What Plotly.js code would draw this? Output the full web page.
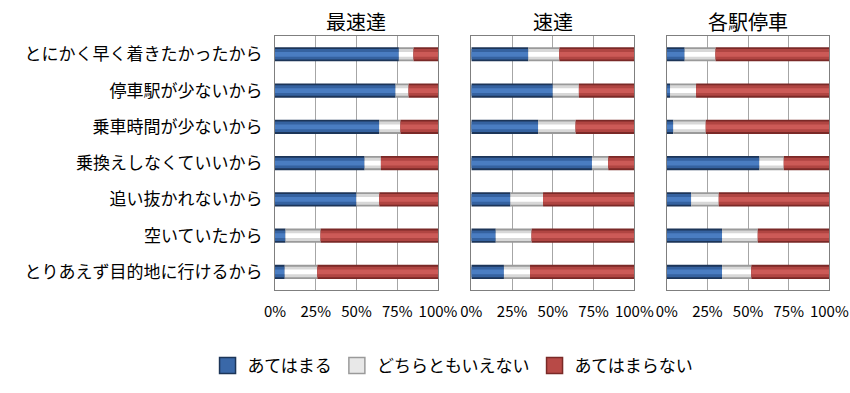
<!DOCTYPE html>
<html>
<head>
<meta charset="utf-8">
<script src="https://cdn.plot.ly/plotly-3.0.1.min.js"></script>
<style>html,body{margin:0;padding:0;background:#fff;}#chart{width:850px;height:393px;}</style>
</head>
<body>
<div id="chart"></div>
<script>
const categories = ["とにかく早く着きたかったから","停車駅が少ないから","乗車時間が少ないから","乗換えしなくていいから","追い抜かれないから","空いていたから","とりあえず目的地に行けるから"];
const panels = ["最速達","速達","各駅停車"];
const seriesNames = ["あてはまる","どちらともいえない","あてはまらない"];
const tickVals = [0,25,50,75,100];
const tickLabels = ["0%","25%","50%","75%","100%"];

// 最速達
const p1_yes = [76, 74, 64, 55, 50, 6.5, 6];
const p1_mid = [9, 8, 13, 10, 14, 21.5, 20];
const p1_no  = [15, 18, 23, 35, 36, 72, 74];
// 速達
const p2_yes = [35, 50, 41, 74, 24, 15, 20];
const p2_mid = [19, 16, 23, 10, 20, 22, 16];
const p2_no  = [46, 34, 36, 16, 56, 63, 64];
// 各駅停車
const p3_yes = [11, 2, 4, 57, 15, 34, 34];
const p3_mid = [19, 16, 20, 15, 17, 22, 18];
const p3_no  = [70, 82, 76, 28, 68, 44, 48];

const panelData = [[p1_yes,p1_mid,p1_no],[p2_yes,p2_mid,p2_no],[p3_yes,p3_mid,p3_no]];

// shading layers: [outer, middle, inner]
const shades = [
  ["#1c3558","#3562a0","#4a7dc2"],
  ["#9a9a9a","#d8d8d8","#ffffff"],
  ["#7a2927","#b04542","#cc5a57"]
];
const legendFill = ["#3a68a8", "#e8e8e8", "#b84a47"];
const legendEdge = ["#1c3558", "#9a9a9a", "#7a2927"];
const layerWidths = [0.39, 0.29, 0.13];
const FONT = '"Noto Sans CJK JP", "Noto Sans", sans-serif';

const traces = [];
panelData.forEach((series, pi) => {
  const xa = pi === 0 ? 'x' : 'x' + (pi + 1);
  const ya = pi === 0 ? 'y' : 'y' + (pi + 1);
  const cum = categories.map(() => 0);
  series.forEach((vals, si) => {
    const base = cum.slice();
    layerWidths.forEach((w, li) => {
      traces.push({
        type: 'bar', orientation: 'h',
        x: vals, y: categories, base: base,
        width: w,
        xaxis: xa, yaxis: ya,
        name: seriesNames[si],
        legendgroup: seriesNames[si],
        showlegend: false,
        marker: {color: shades[si][li], line: {width: 0}},
        hoverinfo: 'skip'
      });
    });
    vals.forEach((v, i) => { cum[i] += v; });
  });
});

// legend entries (square swatches)
seriesNames.forEach((n, si) => {
  traces.push({
    type: 'scatter', mode: 'markers', x: [null], y: [null],
    xaxis: 'x', yaxis: 'y', name: n, legendgroup: n, showlegend: true,
    legendrank: si + 1,
    marker: {symbol: 'square', size: 16, color: legendFill[si], line: {color: legendEdge[si], width: 1.5}},
    hoverinfo: 'skip'
  });
});

const xDomains = [[0.3235,0.5153],[0.5545,0.7463],[0.7845,0.9757]];
const yDomain = [0.262, 0.908];

const layout = {
  width: 850, height: 393,
  margin: {l:0, r:0, t:0, b:0},
  paper_bgcolor: '#ffffff', plot_bgcolor: '#ffffff',
  barmode: 'overlay',
  showlegend: true,
  font: {family: FONT, color: '#000', size: 15},
  legend: {orientation: 'h', x: 0.533, xanchor: 'center', y: 0.069, yanchor: 'middle',
           font: {family: FONT, size: 17, color: '#000'}, traceorder: 'normal',
           itemwidth: 30, tracegroupgap: 0},
  annotations: panels.map((t, i) => ({
    text: t, xref: 'paper', yref: 'paper',
    x: (xDomains[i][0] + xDomains[i][1]) / 2, y: 0.945,
    xanchor: 'center', yanchor: 'middle', showarrow: false,
    font: {family: FONT, size: 20, color: '#000'}
  }))
};

xDomains.forEach((d, i) => {
  const xk = i === 0 ? 'xaxis' : 'xaxis' + (i + 1);
  const yk = i === 0 ? 'yaxis' : 'yaxis' + (i + 1);
  const ya = i === 0 ? 'y' : 'y' + (i + 1);
  const xa = i === 0 ? 'x' : 'x' + (i + 1);
  layout[xk] = {
    domain: d, anchor: ya, range: [0, 100], fixedrange: true,
    tickvals: tickVals, ticktext: tickLabels,
    showgrid: true, gridcolor: '#a6a6a6', gridwidth: 1,
    zeroline: false, showline: true, linecolor: '#7f7f7f', linewidth: 1, mirror: true,
    ticks: '', ticklen: 0, ticklabelstandoff: 8,
    tickfont: {family: FONT, size: 15, color: '#000'}
  };
  layout[yk] = {
    domain: yDomain, anchor: xa, type: 'category',
    categoryorder: 'array', categoryarray: categories,
    autorange: 'reversed', fixedrange: true,
    showgrid: false, zeroline: false,
    showline: true, linecolor: '#7f7f7f', linewidth: 1, mirror: true,
    ticks: '', showticklabels: i === 0, ticklabelstandoff: 8,
    tickfont: {family: FONT, size: 17, color: '#000'}
  };
});

Plotly.newPlot('chart', traces, layout, {staticPlot: true, displayModeBar: false});
</script>
</body>
</html>
